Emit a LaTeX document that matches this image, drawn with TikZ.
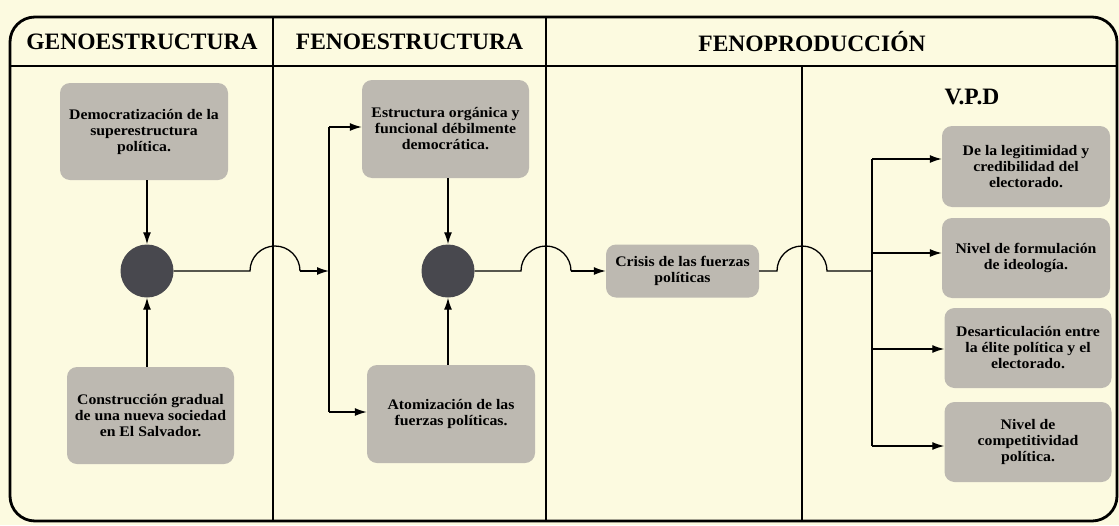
\documentclass[tikz,border=0pt]{standalone}
\usepackage{fontspec}
\setmainfont{Liberation Serif}
\newfontfamily\boxfont[FakeStretch=1.08]{Liberation Serif Bold}
\usetikzlibrary{arrows.meta,calc}
\definecolor{bg}{RGB}{252,250,224}
\definecolor{boxgray}{RGB}{189,185,177}
\definecolor{dotgray}{RGB}{72,72,78}
\tikzset{
  gbox/.style={fill=boxgray, rounded corners=10pt, inner sep=0pt, align=center,
    font=\boxfont\fontsize{14.6}{16}\selectfont},
  dot/.style={circle, fill=dotgray, minimum size=53pt, inner sep=0pt},
  conn/.style={line width=1.3pt, draw=black},
  arr/.style={conn, -{Latex[length=12pt,width=8pt]}},
  head/.style={font=\bfseries\fontsize{23.5}{26}\selectfont, inner sep=0pt},
  frameline/.style={line width=2.8pt},
  sepline/.style={line width=1.3pt},
}
\begin{document}
\begin{tikzpicture}[x=1pt,y=-1pt]
\useasboundingbox (0,0) rectangle (1119,525);
\fill[bg] (0,0) rectangle (1119,525);

% frame
\draw[frameline, rounded corners=25pt] (10,17) rectangle (1117,521);
\draw[frameline] (10,66) -- (1117,66);
\draw[sepline] (273,17) -- (273,521);
\draw[sepline] (546,17) -- (546,521);
\draw[sepline] (802,66) -- (802,521);

% headers
\node[head] (h1) at (142,41.5) {GENOESTRUCTURA};
\node[head] (h2) at (409.5,41.5) {FENOESTRUCTURA};
\node[head] (h3) at (812,41.5) {FENOPRODUCCIÓN};
\node[head] (vpd) at (972,97) {V.P.D};

% boxes
\node[gbox, minimum width=168pt, minimum height=97pt] (dem) at (144,131.5) {Democratización de la\\superestructura\\política.};
\node[gbox, minimum width=167pt, minimum height=97pt] (con) at (150.5,415.5) {Construcción gradual\\de una nueva sociedad\\en El Salvador.};
\node[dot] (c1) at (147,271) {};

\node[gbox, minimum width=167pt, minimum height=98pt] (est) at (445.5,129) {Estructura orgánica y\\funcional débilmente\\democrática.};
\node[gbox, minimum width=168pt, minimum height=98pt] (atom) at (451,414) {Atomización de las\\fuerzas políticas.};
\node[dot] (c2) at (448,271) {};

\node[gbox, minimum width=153pt, minimum height=53pt] (cri) at (682.5,271) {Crisis de las fuerzas\\políticas};

\node[gbox, minimum width=168pt, minimum height=81pt] (A) at (1026,166.5) {De la legitimidad y\\credibilidad del\\electorado.};
\node[gbox, minimum width=168pt, minimum height=80pt] (B) at (1026,258) {Nivel de formulación\\de ideología.};
\node[gbox, minimum width=167pt, minimum height=80pt] (C) at (1028,348) {Desarticulación entre\\la élite política y el\\electorado.};
\node[gbox, minimum width=167pt, minimum height=80pt] (D) at (1028,442) {Nivel de\\competitividad\\política.};

% column 1
\draw[arr] (dem.south -| c1) -- (c1.north);
\draw[arr] (con.north -| c1) -- (c1.south);

% hop 1
\coordinate (h1a) at (250,271);
\coordinate (h1b) at (300,271);
\coordinate (v1m) at (329,271);
\coordinate (v1t) at (329,127);
\coordinate (v1b) at (329,412);
\draw[conn] (c1.east) -- (h1a) arc[start angle=180,end angle=360,radius=25];
\draw[arr] (h1b) -- (v1m);
\draw[conn] (v1t) -- (v1b);
\draw[arr] (v1t) -- (v1t -| est.west);
\draw[arr] (v1b) -- (v1b -| atom.west);

% column 2
\draw[arr] (est.south -| c2) -- (c2.north);
\draw[arr] (atom.north -| c2) -- (c2.south);

% hop 2
\coordinate (h2a) at (521,271);
\coordinate (h2b) at (571,271);
\draw[conn] (c2.east) -- (h2a) arc[start angle=180,end angle=360,radius=25];
\draw[arr] (h2b) -- (cri.west);

% hop 3
\coordinate (h3a) at (777,271);
\coordinate (h3b) at (827,271);
\coordinate (bm) at (872,271);
\draw[conn] (cri.east) -- (h3a) arc[start angle=180,end angle=360,radius=25] -- (bm);

% bus
\coordinate (b1) at (872,159);
\coordinate (b2) at (872,253);
\coordinate (b3) at (872,349);
\coordinate (b4) at (872,446);
\draw[conn] (b1) -- (b4);
\draw[arr] (b1) -- (b1 -| A.west);
\draw[arr] (b2) -- (b2 -| B.west);
\draw[arr] (b3) -- (b3 -| C.west);
\draw[arr] (b4) -- (b4 -| D.west);
\end{tikzpicture}
\end{document}
